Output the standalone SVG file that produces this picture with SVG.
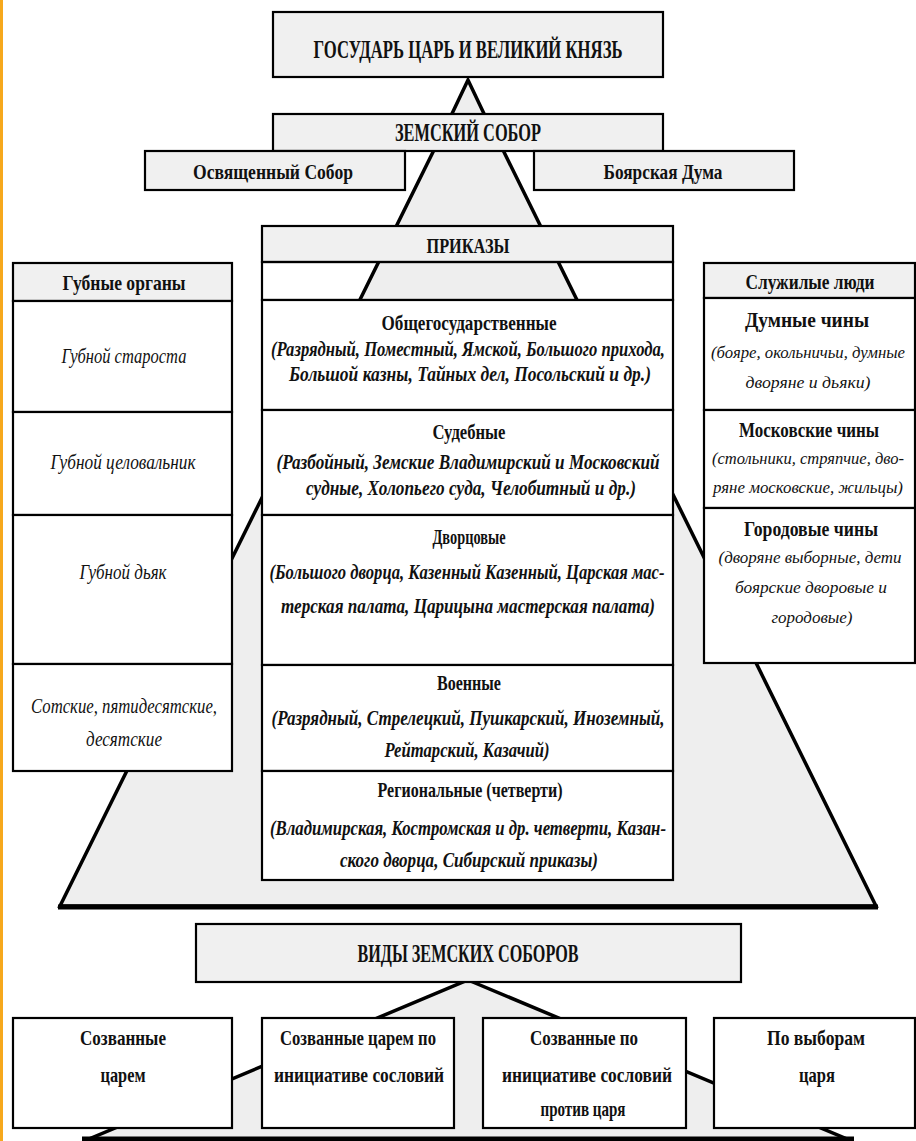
<svg xmlns="http://www.w3.org/2000/svg" width="916" height="1141" viewBox="0 0 916 1141">
<style>
.bg{fill:#ffffff}
.hdr{fill:#f0f0f0;stroke:#000;stroke-width:2.2}
.cell{fill:#ffffff;stroke:#000;stroke-width:2.2}
.open{fill:none;stroke:#000;stroke-width:2.2}
.tri{fill:#eeeeee;stroke:#000;stroke-width:3.5;stroke-linejoin:miter}
.edge{stroke:#000;stroke-width:5;fill:none}
text{font-family:"Liberation Serif","Times New Roman",serif;fill:#111;text-anchor:middle}
.b{font-weight:bold;font-size:22px}
.bs{font-weight:bold;font-size:20px}
.big{font-weight:bold;font-size:26px}
.bi{font-weight:bold;font-style:italic;font-size:20px}
.i{font-style:italic;font-size:20px}
.is{font-style:italic;font-size:17px}
</style>
<rect class="bg" x="0" y="0" width="916" height="1141"/>
<line x1="1.5" y1="0" x2="1.5" y2="1141" stroke="#f6a81c" stroke-width="3"/>

<g id="connectors">
  <polygon class="tri" points="468,80 449,120 487,120"/>
  <polygon class="tri" points="435,148 502,148 876,906 60,906"/>
  <line class="edge" x1="58" y1="907" x2="878" y2="907"/>
  <polygon class="tri" points="468,980 852,1141 84,1141"/>
  <line class="edge" x1="82" y1="1139" x2="854" y2="1139"/>
</g>

<g id="node-gosudar">
  <rect class="hdr" x="273" y="12" width="390" height="65"/>
  <text class="big" x="468" y="58" textLength="309" lengthAdjust="spacingAndGlyphs">ГОСУДАРЬ ЦАРЬ И ВЕЛИКИЙ КНЯЗЬ</text>
</g>

<g id="node-zemsky-sobor">
  <rect class="hdr" x="273" y="114" width="390" height="37"/>
  <text class="big" x="468" y="141" font-size="24" textLength="146" lengthAdjust="spacingAndGlyphs">ЗЕМСКИЙ СОБОР</text>
</g>

<g id="node-osv-sobor">
  <rect class="hdr" x="145" y="151" width="260" height="39"/>
  <text class="b" x="273" y="179" textLength="160" lengthAdjust="spacingAndGlyphs">Освященный  Собор</text>
</g>

<g id="node-boyar-duma">
  <rect class="hdr" x="534" y="151" width="260" height="39"/>
  <text class="b" x="663" y="179" textLength="119" lengthAdjust="spacingAndGlyphs">Боярская Дума</text>
</g>

<g id="node-prikazy">
  <rect class="hdr" x="262" y="226" width="411" height="36"/>
  <text class="b" x="468" y="253" textLength="83" lengthAdjust="spacingAndGlyphs">ПРИКАЗЫ</text>
  <rect class="open" x="262" y="262" width="411" height="38"/>
  <rect class="cell" x="262" y="300" width="411" height="110"/>
  <text class="b" x="469" y="330" textLength="175" lengthAdjust="spacingAndGlyphs">Общегосударственные</text>
  <text class="bi" x="468" y="356" textLength="394" lengthAdjust="spacingAndGlyphs">(Разрядный, Поместный, Ямской, Большого прихода,</text>
  <text class="bi" x="470" y="381" textLength="362" lengthAdjust="spacingAndGlyphs">Большой казны, Тайных дел, Посольский и др.)</text>
  <rect class="cell" x="262" y="410" width="411" height="105"/>
  <text class="b" x="469" y="439" textLength="73" lengthAdjust="spacingAndGlyphs">Судебные</text>
  <text class="bi" x="468" y="469" textLength="383" lengthAdjust="spacingAndGlyphs">(Разбойный, Земские Владимирский и Московский</text>
  <text class="bi" x="471" y="495" textLength="330" lengthAdjust="spacingAndGlyphs">судные, Холопьего суда, Челобитный и др.)</text>
  <rect class="cell" x="262" y="515" width="411" height="150"/>
  <text class="b" x="469" y="544" textLength="73" lengthAdjust="spacingAndGlyphs">Дворцовые</text>
  <text class="bi" x="467" y="579" textLength="395" lengthAdjust="spacingAndGlyphs">(Большого дворца, Казенный Казенный, Царская мас-</text>
  <text class="bi" x="468" y="613" textLength="374" lengthAdjust="spacingAndGlyphs">терская палата, Царицына мастерская палата)</text>
  <rect class="cell" x="262" y="665" width="411" height="106"/>
  <text class="b" x="469" y="690" textLength="64" lengthAdjust="spacingAndGlyphs">Военные</text>
  <text class="bi" x="468" y="725" textLength="393" lengthAdjust="spacingAndGlyphs">(Разрядный, Стрелецкий, Пушкарский, Иноземный,</text>
  <text class="bi" x="467" y="757" textLength="165" lengthAdjust="spacingAndGlyphs">Рейтарский, Казачий)</text>
  <rect class="cell" x="262" y="771" width="411" height="109"/>
  <text class="b" x="470" y="797" textLength="185" lengthAdjust="spacingAndGlyphs">Региональные (четверти)</text>
  <text class="bi" x="468" y="835" textLength="396" lengthAdjust="spacingAndGlyphs">(Владимирская, Костромская и др. четверти, Казан-</text>
  <text class="bi" x="469" y="867" textLength="258" lengthAdjust="spacingAndGlyphs">ского дворца, Сибирский приказы)</text>
</g>

<g id="node-gubnye">
  <rect class="hdr" x="13" y="263" width="219" height="38"/>
  <text class="b" x="124" y="290" textLength="123" lengthAdjust="spacingAndGlyphs">Губные органы</text>
  <rect class="cell" x="13" y="301" width="219" height="111"/>
  <text class="i" x="124" y="363" textLength="125" lengthAdjust="spacingAndGlyphs">Губной староста</text>
  <rect class="cell" x="13" y="412" width="219" height="103"/>
  <text class="i" x="123" y="469" textLength="145" lengthAdjust="spacingAndGlyphs">Губной целовальник</text>
  <rect class="cell" x="13" y="515" width="219" height="149"/>
  <text class="i" x="123" y="579" textLength="87" lengthAdjust="spacingAndGlyphs">Губной дьяк</text>
  <rect class="cell" x="13" y="664" width="219" height="107"/>
  <text class="i" x="124" y="713" textLength="186" lengthAdjust="spacingAndGlyphs">Сотские, пятидесятские,</text>
  <text class="i" x="124" y="746" textLength="76" lengthAdjust="spacingAndGlyphs">десятские</text>
</g>

<g id="node-sluzhilye">
  <rect class="hdr" x="704" y="263" width="211" height="35"/>
  <text class="b" x="810" y="289" textLength="129" lengthAdjust="spacingAndGlyphs">Служилые люди</text>
  <rect class="cell" x="704" y="298" width="211" height="112"/>
  <text class="bs" x="807" y="327" textLength="124" lengthAdjust="spacingAndGlyphs">Думные чины</text>
  <text class="is" x="808" y="358" textLength="194" lengthAdjust="spacingAndGlyphs">(бояре, окольничьи, думные</text>
  <text class="is" x="808" y="388" textLength="125" lengthAdjust="spacingAndGlyphs">дворяне и дьяки)</text>
  <rect class="cell" x="704" y="410" width="211" height="98"/>
  <text class="bs" x="809" y="437" textLength="140" lengthAdjust="spacingAndGlyphs">Московские чины</text>
  <text class="is" x="808" y="464" textLength="192" lengthAdjust="spacingAndGlyphs">(стольники, стряпчие, дво-</text>
  <text class="is" x="808" y="493" textLength="190" lengthAdjust="spacingAndGlyphs">ряне московские, жильцы)</text>
  <rect class="cell" x="704" y="508" width="211" height="155"/>
  <text class="bs" x="811" y="536" textLength="134" lengthAdjust="spacingAndGlyphs">Городовые чины</text>
  <text class="is" x="810" y="563" textLength="183" lengthAdjust="spacingAndGlyphs">(дворяне выборные, дети</text>
  <text class="is" x="811" y="593" textLength="152" lengthAdjust="spacingAndGlyphs">боярские дворовые и</text>
  <text class="is" x="812" y="623" textLength="81" lengthAdjust="spacingAndGlyphs">городовые)</text>
</g>

<g id="node-vidy">
  <rect class="hdr" x="196" y="924" width="545" height="58"/>
  <text class="big" x="468" y="962" font-size="24" textLength="221" lengthAdjust="spacingAndGlyphs">ВИДЫ ЗЕМСКИХ СОБОРОВ</text>
</g>

<g id="node-sozv-tsarem">
  <rect class="cell" x="13" y="1018" width="219" height="110"/>
  <text class="b" x="123" y="1045" textLength="86" lengthAdjust="spacingAndGlyphs">Созванные</text>
  <text class="b" x="123" y="1082" textLength="45" lengthAdjust="spacingAndGlyphs">царем</text>
</g>

<g id="node-sozv-tsarem-iniciativa">
  <rect class="cell" x="262" y="1018" width="192" height="110"/>
  <text class="b" x="358" y="1045" textLength="156" lengthAdjust="spacingAndGlyphs">Созванные царем по</text>
  <text class="b" x="359" y="1082" textLength="170" lengthAdjust="spacingAndGlyphs">инициативе сословий</text>
</g>

<g id="node-sozv-protiv">
  <rect class="cell" x="483" y="1018" width="203" height="110"/>
  <text class="b" x="584" y="1045" textLength="108" lengthAdjust="spacingAndGlyphs">Созванные по</text>
  <text class="b" x="587" y="1082" textLength="170" lengthAdjust="spacingAndGlyphs">инициативе сословий</text>
  <text class="b" x="583" y="1116" textLength="85" lengthAdjust="spacingAndGlyphs">против царя</text>
</g>

<g id="node-po-vyboram">
  <rect class="cell" x="714" y="1018" width="201" height="110"/>
  <text class="b" x="816" y="1045" textLength="98" lengthAdjust="spacingAndGlyphs">По выборам</text>
  <text class="b" x="817" y="1082" textLength="36" lengthAdjust="spacingAndGlyphs">царя</text>
</g>
</svg>
